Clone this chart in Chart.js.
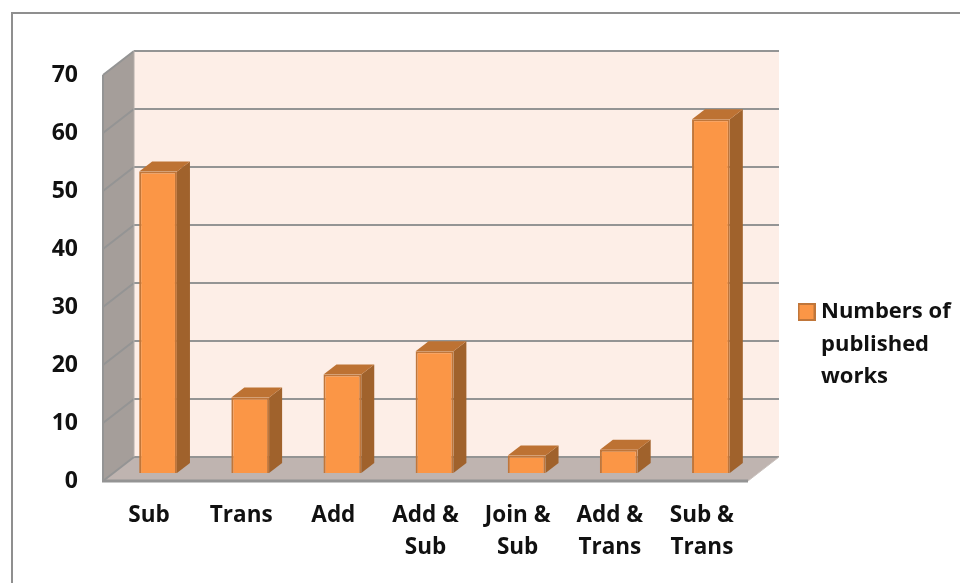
<!DOCTYPE html>
<html>
<head>
<meta charset="utf-8">
<title>Numbers of published works</title>
<script src="https://cdn.jsdelivr.net/npm/chart.js@4/dist/chart.umd.min.js"></script>
<style>
    html, body { margin: 0; padding: 0; background: #fff; overflow: hidden; }
    #wrap { position: relative; width: 960px; height: 583px; }
    #frame { position: absolute; left: 11px; top: 12px; width: 960px; height: 600px; border: 2px solid #8f8f8f; box-sizing: border-box; }
    canvas { position: absolute; left: 0; top: 0; }
</style>
</head>
<body>
<div id="wrap">
    <div id="frame"></div>
    <canvas id="chart" width="960" height="583"></canvas>
</div>
<script>
const categories = ["Sub", "Trans", "Add", ["Add &", "Sub"], ["Join &", "Sub"], ["Add &", "Trans"], ["Sub &", "Trans"]];
const publishedWorks = [52, 13, 17, 21, 3, 4, 61];
const seriesLabel = ["Numbers of", "published", "works"];
const yMax = 70;
const yStep = 10;

// depth of the fake 3D box, and of each bar inside it
const wallDx = 31, wallDy = 24;
const barShiftX = 9, barShiftY = 8;
const barDx = 13, barDy = 10;

const FONT = "'Open Sans', sans-serif";
const LINE_COLOR = "#949494";

function poly(ctx, pts, fill) {
    ctx.beginPath();
    pts.forEach((p, i) => i ? ctx.lineTo(p[0], p[1]) : ctx.moveTo(p[0], p[1]));
    ctx.closePath();
    ctx.fillStyle = fill;
    ctx.fill();
}

function segment(ctx, x1, y1, x2, y2, color, width) {
    ctx.beginPath();
    ctx.moveTo(x1, y1);
    ctx.lineTo(x2, y2);
    ctx.strokeStyle = color;
    ctx.lineWidth = width;
    ctx.stroke();
}

// Walls, floor and grid lines
const boxPlugin = {
    id: "box3d",
    beforeDatasetsDraw(chart) {
        const ctx = chart.ctx;
        const { left, right } = chart.chartArea;
        const y = chart.scales.y;
        const y0 = y.getPixelForValue(0), yTop = y.getPixelForValue(yMax);

        ctx.save();
        poly(ctx, [[left + wallDx, yTop - wallDy], [right + wallDx, yTop - wallDy], [right + wallDx, y0 - wallDy], [left + wallDx, y0 - wallDy]], "#fdeee7");
        poly(ctx, [[left, yTop], [left + wallDx, yTop - wallDy], [left + wallDx, y0 - wallDy], [left, y0]], "#a59e9a");
        poly(ctx, [[left, y0], [left + wallDx, y0 - wallDy], [right + wallDx, y0 - wallDy], [right, y0]], "#bfb4b0");

        for (let v = 0; v <= yMax; v += yStep) {
            const py = y.getPixelForValue(v);
            segment(ctx, left, py, left + wallDx, py - wallDy, LINE_COLOR, 2);
            segment(ctx, left + wallDx, py - wallDy, right + wallDx, py - wallDy, LINE_COLOR, 2);
        }
        segment(ctx, left, yTop, left, y0, LINE_COLOR, 2);
        segment(ctx, left + wallDx, yTop - wallDy, left + wallDx, y0 - wallDy, "#b5aeaa", 1);
        segment(ctx, left - 1, y0, right, y0, LINE_COLOR, 3);
        segment(ctx, right, y0, right + wallDx, y0 - wallDy, "#c9c1bd", 1);
        ctx.restore();
    },
    // Shift the bars into the box and add their side and top faces
    beforeDatasetDraw(chart, args) {
        const ctx = chart.ctx;
        ctx.save();
        ctx.translate(barShiftX, -barShiftY);
        args.meta.data.forEach(bar => {
            const l = bar.x - bar.width / 2, r = bar.x + bar.width / 2;
            poly(ctx, [[r, bar.y], [r + barDx, bar.y - barDy], [r + barDx, bar.base - barDy], [r, bar.base]], "#a0622c");
            poly(ctx, [[l, bar.y], [l + barDx, bar.y - barDy], [r + barDx, bar.y - barDy], [r, bar.y]], "#bd7233");
        });
    },
    afterDatasetDraw(chart) {
        chart.ctx.restore();
    },
    // Move the legend out of the chart area, to the right of the box
    afterLayout(chart) {
        const legend = chart.legend;
        legend.left = 797;
        legend.top = 295;
        legend.right = 960;
        legend.bottom = 420;
    }
};

// Legend swatch, wider than the text offset Chart.js leaves for it
const swatch = document.createElement("canvas");
swatch.width = 18;
swatch.height = 18;
const sctx = swatch.getContext("2d");
sctx.fillStyle = "#fb9646";
sctx.fillRect(0, 0, 18, 18);
sctx.strokeStyle = "#c0763a";
sctx.lineWidth = 2;
sctx.strokeRect(1, 1, 16, 16);

new Chart(document.getElementById("chart"), {
    type: "bar",
    data: {
        labels: categories,
        datasets: [{
            label: seriesLabel,
            data: publishedWorks,
            backgroundColor: "#fb9646",
            borderColor: "#c0763a",
            borderWidth: 2,
            barPercentage: 0.41,
            categoryPercentage: 1,
            clip: false
        }]
    },
    options: {
        responsive: false,
        animation: false,
        layout: { padding: { left: 0, right: 212, top: 75, bottom: 0 } },
        plugins: {
            tooltip: { enabled: false },
            legend: {
                position: "chartArea",
                align: "start",
                labels: {
                    color: "#111",
                    font: { family: FONT, size: 22, weight: "700", lineHeight: 1.48 },
                    usePointStyle: true,
                    pointStyle: swatch,
                    pointStyleWidth: 7,
                    boxHeight: 18,
                    padding: 6
                }
            }
        },
        scales: {
            x: {
                grid: { display: false, drawTicks: false },
                border: { display: false },
                afterFit: s => { s.height = 102; },
                ticks: {
                    color: "#111",
                    padding: 19,
                    maxRotation: 0,
                    autoSkip: false,
                    font: { family: FONT, size: 22.5, weight: "700", lineHeight: 1.42 }
                }
            },
            y: {
                min: 0,
                max: yMax,
                grid: { display: false, drawTicks: false },
                border: { display: false },
                afterFit: s => { s.width = 103; },
                ticks: {
                    color: "#111",
                    padding: 25,
                    stepSize: yStep,
                    font: { family: FONT, size: 23, weight: "700" }
                }
            }
        }
    },
    plugins: [boxPlugin]
});
</script>
</body>
</html>
